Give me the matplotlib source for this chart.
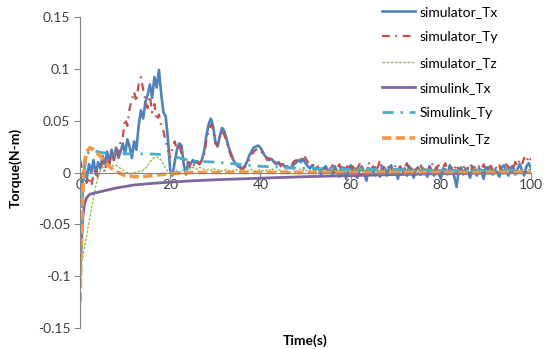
import numpy as np
import matplotlib.pyplot as plt

plt.rcParams['font.family'] = ['Lato', 'DejaVu Sans']

# simulator series, sampled every 0.5 s (one row = 5 s)
sim_tx = [
    0.0, -0.012, 0.004, -0.006, 0.008, 0.0, 0.012, -0.002, 0.01, 0.004,
    0.016, 0.008, 0.02, 0.01, 0.022, 0.012, 0.024, 0.014, 0.02, 0.028,
    0.018, 0.032, 0.025, 0.014, 0.03, 0.022, 0.045, 0.06, 0.052, 0.068,
    0.075, 0.085, 0.072, 0.092, 0.082, 0.099, 0.076, 0.058, 0.054, 0.032,
    0.002, -0.003, 0.01, 0.022, 0.028, 0.026, 0.008, -0.002, 0.01, 0.008,
    0.012, 0.009, 0.011, 0.008, 0.012, 0.02, 0.035, 0.046, 0.052, 0.045,
    0.03, 0.025, 0.035, 0.043, 0.04, 0.032, 0.024, 0.018, 0.012, 0.009,
    0.006, 0.005, 0.004, 0.006, 0.01, 0.016, 0.02, 0.024, 0.025, 0.026,
    0.024, 0.02, 0.016, 0.014, 0.012, 0.013, 0.01, 0.008, 0.01, 0.007,
    0.008, 0.005, 0.006, 0.004, 0.006, 0.008, 0.01, 0.012, 0.01, 0.013,
    0.009, 0.006, 0.004, 0.007, 0.002, 0.005, 0.003, -0.003, 0.004, 0.006,
    0.001, 0.004, -0.002, 0.006, 0.001, -0.004, 0.005, 0.002, -0.006, 0.003,
    0.007, -0.001, 0.004, -0.005, 0.002, 0.006, 0.0, -0.008, 0.004, 0.003,
    -0.002, 0.005, 0.001, -0.004, 0.006, 0.002, -0.003, 0.004, 0.007, -0.002,
    0.001, -0.006, 0.005, 0.002, 0.004, -0.003, 0.006, 0.0, -0.005, 0.003,
    0.005, -0.002, 0.004, 0.001, -0.004, 0.006, 0.002, -0.003, 0.005, 0.0,
    -0.006, 0.004, 0.003, -0.002, 0.007, 0.001, -0.004, -0.014, 0.003, 0.005,
    -0.002, 0.004, 0.0, -0.005, 0.006, 0.002, -0.003, 0.004, 0.001, -0.006,
    0.005, 0.002, 0.006, -0.002, 0.003, 0.0, -0.004, 0.005, 0.007, 0.001,
    -0.003, 0.004, 0.006, -0.002, 0.003, 0.008, 0.002, -0.003, 0.006, 0.009,
    0.004,
]
sim_ty = [
    0.012, 0.004, -0.006, -0.01, -0.004, -0.013, -0.002, 0.005, -0.006, 0.003,
    0.01, 0.0, 0.014, 0.006, 0.02, 0.012, 0.024, 0.016, 0.03, 0.035,
    0.052, 0.045, 0.062, 0.07, 0.078, 0.068, 0.085, 0.092, 0.08, 0.07,
    0.062, 0.074, 0.058, 0.066, 0.05, 0.056, 0.045, 0.04, 0.03, 0.022,
    0.015, 0.024, 0.03, 0.022, 0.028, 0.018, 0.012, 0.008, 0.01, 0.004,
    0.008, 0.006, 0.01, 0.008, 0.012, 0.016, 0.03, 0.04, 0.046, 0.042,
    0.028, 0.026, 0.034, 0.04, 0.036, 0.03, 0.022, 0.016, 0.012, 0.008,
    0.006, 0.004, 0.003, 0.005, 0.008, 0.012, 0.016, 0.02, 0.022, 0.023,
    0.022, 0.018, 0.016, 0.012, 0.014, 0.011, 0.012, 0.008, 0.01, 0.006,
    0.009, 0.005, 0.007, 0.006, 0.008, 0.011, 0.012, 0.015, 0.013, 0.017,
    0.014, 0.01, 0.008, 0.009, 0.005, 0.007, 0.004, 0.002, 0.006, 0.003,
    0.005, 0.002, 0.007, 0.0, 0.004, 0.008, -0.002, 0.005, 0.003, 0.009,
    0.001, 0.006, -0.004, 0.004, 0.008, 0.002, 0.005, 0.0, 0.01, 0.003,
    0.006, -0.003, 0.004, 0.012, 0.002, 0.005, 0.0, 0.007, 0.003, -0.002,
    0.008, 0.003, 0.006, -0.001, 0.005, 0.009, 0.002, 0.004, -0.003, 0.006,
    0.003, 0.008, 0.001, 0.005, -0.002, 0.006, 0.01, 0.002, 0.004, 0.007,
    0.0, 0.005, 0.009, 0.002, -0.004, 0.006, 0.003, 0.008, 0.001, 0.005,
    0.007, -0.001, 0.004, 0.009, 0.002, 0.005, 0.0, 0.006, 0.003, 0.008,
    0.002, 0.005, 0.009, 0.001, 0.006, 0.003, 0.007, -0.002, 0.005, 0.008,
    0.004, 0.009, 0.003, 0.01, 0.006, 0.012, 0.008, 0.014, 0.01, 0.016,
    0.012,
]
sim_tz = [
    -0.094, -0.084, -0.072, -0.06, -0.048, -0.036, -0.024, -0.013, -0.004, 0.002,
    0.005, 0.006, 0.008, 0.007, 0.008, 0.006, 0.007, 0.005, 0.004, 0.002,
    0.001, 0.0, -0.001, -0.001, 0.0, 0.0, 0.001, 0.001, 0.002, 0.004,
    0.007, 0.01, 0.013, 0.014, 0.015, 0.014, 0.012, 0.008, 0.004, 0.001,
    0.0, 0.001, -0.001, 0.002, 0.001, 0.0, 0.003, 0.002, 0.004, 0.003,
    0.005, 0.004, 0.003, 0.005, 0.004, 0.003, 0.002, 0.003, 0.002, 0.004,
    0.003, 0.002, 0.003, 0.001, 0.002, 0.003, 0.002, 0.001, 0.002, 0.003,
    0.002, 0.001, 0.003, 0.002, 0.001, 0.002, 0.003, 0.002, 0.001, 0.002,
    0.003, 0.002, 0.001, 0.003, 0.002, 0.004, 0.002, 0.001, 0.003, 0.002,
    0.001, 0.003, 0.002, 0.0, 0.002, 0.003, 0.001, 0.002, 0.004, 0.002,
    0.001, 0.003, 0.002, 0.0, 0.003, 0.002, 0.001, 0.003, 0.002, 0.0,
    0.002, 0.004, 0.001, 0.002, 0.0, 0.003, 0.002, 0.001, 0.003, 0.002,
    0.0, 0.002, 0.003, 0.001, 0.002, 0.004, 0.001, 0.002, 0.0, 0.003,
    0.002, 0.001, 0.003, 0.002, 0.0, 0.002, 0.003, 0.001, 0.002, 0.004,
    0.001, 0.002, 0.0, 0.003, 0.002, 0.001, 0.003, 0.002, 0.0, 0.002,
    0.003, 0.001, 0.002, 0.004, 0.001, 0.002, 0.0, 0.003, 0.002, 0.001,
    0.002, 0.003, 0.001, 0.002, 0.0, 0.003, 0.002, 0.001, 0.003, 0.002,
    0.0, 0.002, 0.003, 0.001, 0.002, 0.004, 0.001, 0.002, 0.0, 0.003,
    0.002, 0.001, 0.003, 0.002, 0.0, 0.002, 0.003, 0.001, 0.002, 0.004,
    0.001, 0.002, 0.0, 0.003, 0.002, 0.001, 0.003, 0.002, 0.001, 0.003,
    0.002,
]
sim_time = np.arange(len(sim_tx)) * 0.5

# simulink series (smooth)
link_tx_t = [0.0, 0.3, 0.6, 1.0, 1.5, 2.2, 3, 5, 8, 12, 16, 20, 25, 30, 40, 50, 60, 70, 80, 90, 100]
link_tx = [-0.095, -0.07, -0.045, -0.03, -0.024, -0.021, -0.02, -0.018, -0.015, -0.012, -0.0105,
           -0.0093, -0.008, -0.007, -0.0055, -0.004, -0.003, -0.002, -0.0012, -0.0006, 0.0]
link_ty_t = [0, 0.3, 0.6, 1.0, 1.5, 2, 3, 5, 10, 15, 20, 22, 25, 30, 35, 40, 45, 50, 60, 70, 80, 90, 100]
link_ty = [-0.104, -0.06, -0.02, 0.005, 0.016, 0.02, 0.021, 0.019, 0.018, 0.018, 0.017, 0.014,
           0.011, 0.01, 0.008, 0.006, 0.005, 0.004, 0.003, 0.003, 0.002, 0.002, 0.002]
link_tz_t = [0, 0.3, 0.6, 1.0, 1.5, 2.2, 3, 4, 5, 6, 7, 8, 10, 12, 14, 16, 18, 20, 25, 30, 40, 60, 80, 100]
link_tz = [-0.125, -0.07, -0.02, 0.01, 0.02, 0.024, 0.022, 0.018, 0.013, 0.008, 0.004, 0.001,
           -0.003, -0.004, -0.004, -0.003, -0.002, -0.001, 0.0, 0.0, 0.0, 0.0, 0.0, 0.0]

y_ticks = [-0.15, -0.1, -0.05, 0, 0.05, 0.1, 0.15]
y_labels = ['-0.15', '-0.1', '-0.05', '0', '0.05', '0.1', '0.15']
x_ticks = [0, 20, 40, 60, 80, 100]

fig = plt.figure(figsize=(5.52, 3.49), dpi=100)
ax = fig.add_axes([80 / 552, 21 / 349, 451 / 552, 311 / 349])

ax.plot(sim_time, sim_tx, color='#4F81BD', lw=1.9, label='simulator_Tx')
ax.plot(sim_time, sim_ty, color='#C0504D', lw=1.6, dashes=(3.5, 2.5, 0.8, 2.5), label='simulator_Ty')
ax.plot(sim_time, sim_tz, color='#9BBB59', lw=1.0, dashes=(2, 1), label='simulator_Tz')
ax.plot(link_tx_t, link_tx, color='#8064A2', lw=2.0, label='simulink_Tx')
ax.plot(link_ty_t, link_ty, color='#4BACC6', lw=2.0, dashes=(4, 2.5, 0.8, 2.5), label='Simulink_Ty')
ax.plot(link_tz_t, link_tz, color='#F79646', lw=2.6, dashes=(2.6, 1.2), label='simulink_Tz')

ax.set_xlim(0, 100)
ax.set_ylim(-0.15, 0.15)
ax.set_yticks(y_ticks)
ax.set_yticklabels(y_labels)
ax.set_xticks(x_ticks)

for s in ['top', 'right']:
    ax.spines[s].set_visible(False)
ax.spines['bottom'].set_position(('data', 0))
ax.spines['bottom'].set_color('#868686')
ax.spines['left'].set_color('#868686')
ax.tick_params(axis='both', colors='#868686', labelcolor='#404040', labelsize=10, length=4)
ax.tick_params(axis='x', pad=1)
ax.tick_params(axis='y', pad=3)
ax.patch.set_alpha(0)

fig.text(305 / 552, 1 - 341 / 349, 'Time(s)', ha='center', va='center', fontsize=10, weight='bold')
fig.text(15 / 552, 1 - 168 / 349, 'Torque(N-m)', ha='center', va='center', rotation=90,
         fontsize=10, weight='bold')

fig.legend(loc='upper left', bbox_to_anchor=(382 / 552, 1 - 6 / 349), frameon=False,
           fontsize=10, handlelength=2.4, handletextpad=0.3, labelspacing=0.96,
           borderaxespad=0, borderpad=0)

fig.savefig('out.png', dpi=100)
